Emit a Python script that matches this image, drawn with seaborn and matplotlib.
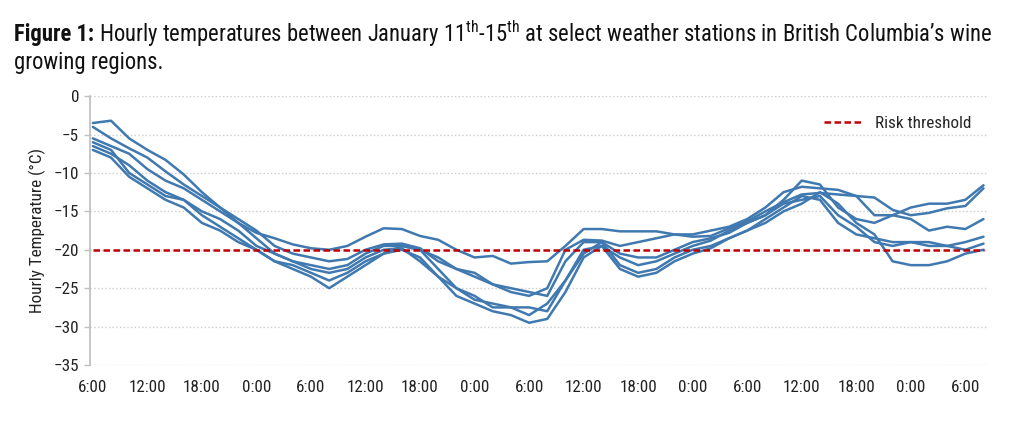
"""
Hourly temperatures Jan 11-15 at BC wine region weather stations,
with the -20 °C risk threshold.
"""

import matplotlib
matplotlib.use("Agg")
import pandas as pd
import matplotlib.pyplot as plt
import seaborn as sns
from matplotlib import font_manager

# hours since 6:00 on January 11, sampled every 2 h
HOURS = list(range(0, 100, 2))

STATION_1 = [-3.5, -3.2, -5.5, -7.0, -8.3, -10.2, -12.5, -14.5, -16.5, -17.8,
             -18.5, -19.3, -19.8, -20.0, -19.5, -18.3, -17.2, -17.3, -18.2, -18.7,
             -20.0, -21.0, -20.8, -21.8, -21.6, -21.5, -19.5, -17.3, -17.3, -17.6,
             -17.6, -17.6, -18.0, -18.3, -18.2, -17.2, -16.3, -15.0, -13.8, -12.8,
             -12.6, -12.8, -13.0, -13.2, -14.8, -15.5, -15.2, -14.6, -14.3, -12.0]
STATION_2 = [-4.0, -5.5, -6.8, -8.0, -9.8, -11.5, -13.0, -14.5, -16.0, -17.5,
             -19.5, -20.5, -21.0, -21.5, -21.2, -20.0, -19.3, -19.2, -19.8, -21.5,
             -22.5, -23.5, -24.5, -25.5, -26.0, -25.0, -20.0, -18.7, -18.8, -19.5,
             -19.0, -18.5, -18.0, -18.0, -17.5, -17.0, -16.0, -14.5, -12.5, -11.8,
             -12.0, -12.2, -13.0, -15.5, -15.5, -14.5, -14.0, -14.0, -13.5, -11.6]
STATION_3 = [-5.5, -6.5, -7.5, -9.5, -11.0, -12.0, -13.5, -15.0, -16.5, -18.5,
             -20.5, -21.5, -22.0, -22.5, -22.0, -20.5, -19.5, -19.5, -20.0, -21.0,
             -22.5, -23.0, -24.5, -25.0, -25.5, -26.0, -21.5, -19.0, -19.0, -20.5,
             -21.0, -21.0, -20.0, -19.0, -18.5, -17.8, -16.5, -15.5, -13.5, -11.0,
             -11.5, -14.5, -16.0, -16.5, -15.5, -16.0, -17.5, -17.0, -17.3, -16.0]
STATION_4 = [-6.0, -7.0, -10.0, -11.5, -13.0, -13.5, -15.0, -16.0, -17.5, -19.5,
             -20.5, -21.5, -22.5, -23.0, -22.5, -21.0, -20.0, -19.8, -21.5, -23.5,
             -25.0, -26.5, -27.0, -27.5, -28.5, -27.0, -24.0, -20.5, -19.0, -22.0,
             -23.0, -22.5, -21.0, -20.0, -19.5, -18.5, -17.5, -16.0, -14.5, -13.0,
             -13.5, -16.5, -18.0, -18.5, -19.0, -19.0, -19.0, -19.5, -19.0, -18.3]
STATION_5 = [-6.5, -7.5, -9.0, -11.0, -12.5, -13.5, -15.5, -17.0, -18.5, -20.0,
             -21.5, -22.0, -23.0, -24.0, -23.0, -21.5, -20.5, -19.5, -20.0, -22.5,
             -25.0, -26.0, -27.5, -27.5, -27.5, -28.0, -24.0, -20.0, -19.5, -21.0,
             -22.0, -21.5, -20.5, -19.5, -18.8, -17.5, -16.5, -15.5, -14.0, -13.5,
             -13.0, -15.5, -17.0, -19.0, -19.5, -19.0, -19.5, -19.5, -20.0, -19.2]
STATION_6 = [-7.0, -8.0, -10.5, -12.0, -13.5, -14.5, -16.5, -17.5, -19.0, -20.0,
             -21.5, -22.5, -23.5, -25.0, -23.5, -22.0, -20.5, -20.0, -21.0, -23.5,
             -26.0, -27.0, -28.0, -28.5, -29.5, -29.0, -25.5, -21.0, -19.5, -22.5,
             -23.5, -23.0, -21.5, -20.5, -19.8, -18.5, -17.5, -16.5, -15.0, -14.0,
             -12.5, -14.0, -16.5, -18.0, -21.5, -22.0, -22.0, -21.5, -20.5, -20.0]

THRESHOLD = -20
TICK_HOURS = list(range(0, 97, 6))
TICK_LABELS = ["6:00", "12:00", "18:00", "0:00"] * 4 + ["6:00"]

BLUE = "#4079b0"
RED = "#c00000"
TEXT = "#222222"


def pick_font(candidates):
    for name in candidates:
        try:
            font_manager.findfont(font_manager.FontProperties(family=name),
                                  fallback_to_default=False)
            return name
        except ValueError:
            continue
    return "DejaVu Sans"


FONT = pick_font(["Roboto Condensed", "Liberation Sans Narrow", "Open Sans Condensed",
                  "Roboto", "Liberation Sans"])
NARROW = FONT in ("Roboto Condensed", "Liberation Sans Narrow", "Open Sans Condensed")
TICK_SIZE = 12.3 if NARROW else 10.5

sns.set_theme(style="white")
plt.rcParams["font.family"] = [FONT, "DejaVu Sans"]
plt.rcParams["mathtext.fontset"] = "custom"
plt.rcParams["mathtext.rm"] = FONT

stations = [STATION_1, STATION_2, STATION_3, STATION_4, STATION_5, STATION_6]
df = pd.concat(
    [pd.DataFrame({"hour": HOURS, "temp": vals, "station": i}) for i, vals in enumerate(stations)],
    ignore_index=True,
)

fig = plt.figure(figsize=(10.24, 4.33), dpi=100)
ax = fig.add_axes([0.088, 0.157, 0.876, 0.621])

sns.lineplot(data=df, x="hour", y="temp", units="station", estimator=None,
             color=BLUE, lw=1.8, ax=ax, legend=False)
sns.lineplot(x=HOURS, y=[THRESHOLD] * len(HOURS), color=RED, lw=1.8,
             dashes=False, ax=ax, label="Risk threshold")
ax.lines[-1].set_dashes((2.6, 1.4))

ax.set_xlim(-0.3, 98.4)
ax.set_ylim(-35, 0)
ax.set_yticks(range(-35, 1, 5))
ax.set_xticks(TICK_HOURS)
ax.set_xticklabels(TICK_LABELS)
ax.tick_params(axis="both", labelsize=TICK_SIZE, colors=TEXT)
ax.tick_params(axis="y", left=True, length=4, width=1, color="#bfbfbf", pad=4)
ax.tick_params(axis="x", bottom=False, pad=5)
ax.grid(axis="y", linestyle=":", color="#cccccc", lw=1)
for side in ["top", "right", "bottom"]:
    ax.spines[side].set_visible(False)
ax.spines["left"].set_color("#bfbfbf")
ax.set_xlabel("")
ax.set_ylabel("Hourly Temperature (°C)", fontsize=TICK_SIZE, color=TEXT, labelpad=5)

ax.legend(loc="upper right", bbox_to_anchor=(1.0, 0.985), frameon=False,
          fontsize=TICK_SIZE, handlelength=2.2, handletextpad=0.8)

# title: bold lead-in followed by regular text, sized to span the figure width
renderer = fig.canvas.get_renderer()
title_rest = ("Hourly temperatures between January 11$^{\\mathrm{th}}$-15$^{\\mathrm{th}}$ at select "
              "weather stations in British Columbia\u2019s wine")
size = 15.0
y1 = 1 - 34 / 433
lead = fig.text(0.014, y1, "Figure 1:", fontsize=size, weight="bold",
                va="center", ha="left", color="#111111")
rest = fig.text(0, y1, title_rest, fontsize=size, va="center", ha="left", color="#111111")
target = 993
for _ in range(4):
    lead.set_fontsize(size)
    rest.set_fontsize(size)
    bb = lead.get_window_extent(renderer=renderer)
    rest.set_x((bb.x1 + 0.3 * size) / fig.bbox.width)
    right = rest.get_window_extent(renderer=renderer).x1
    size *= (target - 14) / (right - 14)
lead.set_fontsize(size)
rest.set_fontsize(size)
bb = lead.get_window_extent(renderer=renderer)
rest.set_x((bb.x1 + 0.3 * size) / fig.bbox.width)
fig.text(0.014, 1 - 62 / 433, "growing regions.", fontsize=size, va="center",
         ha="left", color="#111111")

fig.savefig("out.png", dpi=100)
